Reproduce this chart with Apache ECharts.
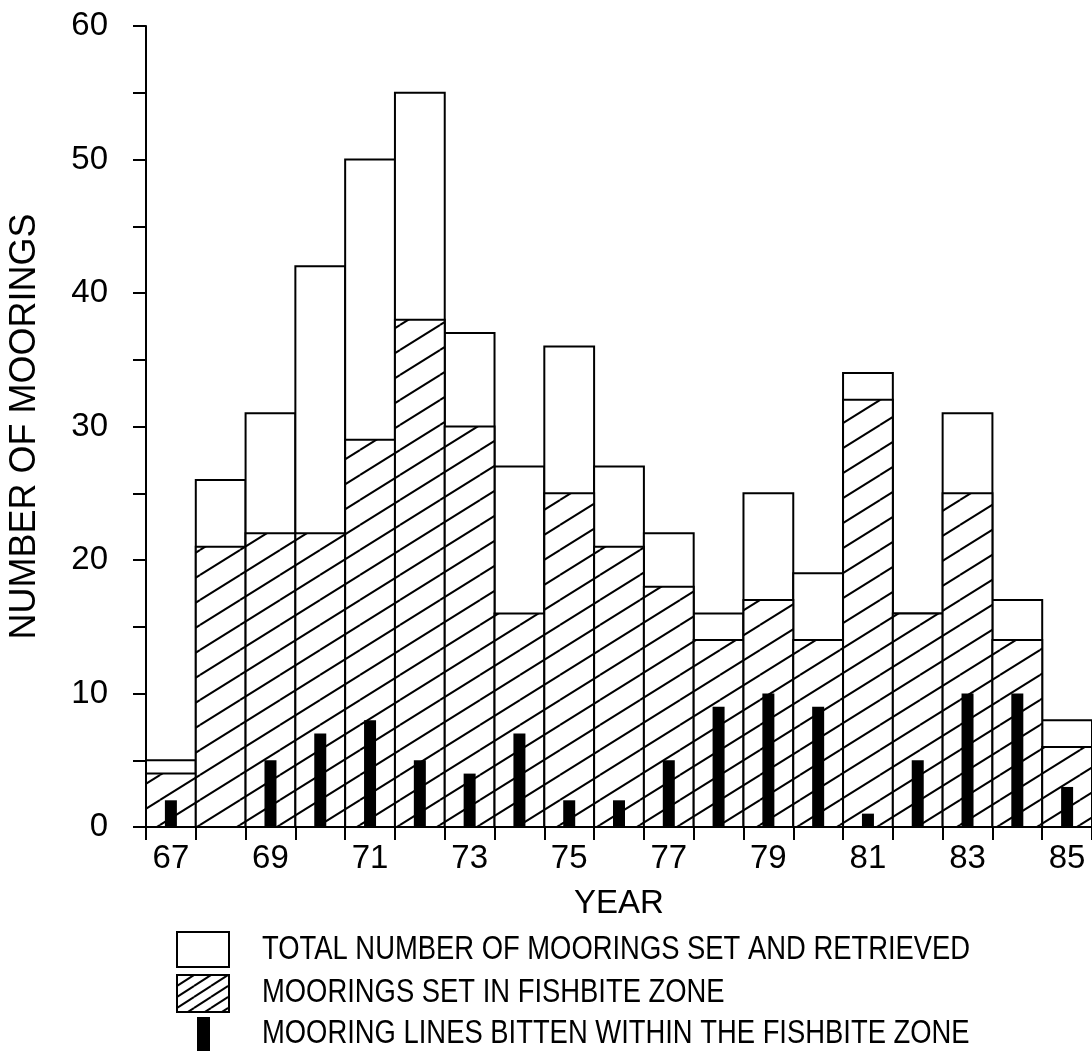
<!DOCTYPE html>
<html>
<head>
<meta charset="utf-8">
<script src="https://cdn.jsdelivr.net/npm/echarts@6/dist/echarts.min.js"></script>
<style>
html,body{margin:0;padding:0;background:#fff;}
#chart{width:1092px;height:1051px;}
</style>
</head>
<body>
<div id="chart"></div>
<script>
// Data
const years = ['67','68','69','70','71','72','73','74','75','76','77','78','79','80','81','82','83','84','85'];
const totalMoorings = [5,26,31,42,50,55,37,27,36,27,22,16,25,19,34,16,31,17,8];
const fishbiteZone  = [4,21,22,22,29,38,30,16,25,21,18,14,17,14,32,16,25,14,6];
const bittenLines   = [2,0,5,7,8,5,4,7,2,2,5,9,10,9,1,5,10,10,3];
const legendLabels = [
  'TOTAL NUMBER OF MOORINGS SET AND RETRIEVED',
  'MOORINGS SET IN FISHBITE ZONE',
  'MOORING LINES BITTEN WITHIN THE FISHBITE ZONE'
];

function makeHatch(W, H, lw) {
  const c = document.createElement('canvas');
  c.width = W; c.height = H;
  const ctx = c.getContext('2d');
  ctx.fillStyle = '#fff';
  ctx.fillRect(0, 0, W, H);
  ctx.strokeStyle = '#000';
  ctx.lineWidth = lw;
  for (let dx = -W; dx <= W; dx += W) {
    for (let dy = -H; dy <= H; dy += H) {
      ctx.beginPath();
      ctx.moveTo(dx, H + dy);
      ctx.lineTo(W + dx, dy);
      ctx.stroke();
    }
  }
  return c;
}
const hatchBig = makeHatch(40, 25, 2);
const hatchSmall = makeHatch(17, 11, 2);

const FONT_REG = '"Liberation Sans", Arial, sans-serif';

function bandRect(fill, lw) {
  return function (params, api) {
    const idx = api.value(0);
    const v = api.value(1);
    const top = api.coord([idx, v]);
    const base = api.coord([idx, 0]);
    const w = api.size([1, 0])[0];
    return {
      type: 'rect',
      shape: { x: top[0] - w / 2, y: top[1], width: w, height: base[1] - top[1] },
      style: { fill: fill, stroke: '#000', lineWidth: lw }
    };
  };
}
function thinBar(params, api) {
  const idx = api.value(0);
  const v = api.value(1);
  if (!v) return null;
  const top = api.coord([idx, v]);
  const base = api.coord([idx, 0]);
  const w = 12;
  return {
    type: 'rect',
    shape: { x: top[0] - w / 2, y: top[1], width: w, height: base[1] - top[1] },
    style: { fill: '#000' }
  };
}

function legendText(txt, cy) {
  return {
    type: 'text', x: 262, y: cy, scaleX: 0.83,
    style: { text: txt, font: '33px ' + FONT_REG, fill: '#000', textVerticalAlign: 'middle', textAlign: 'left' }
  };
}

const chart = echarts.init(document.getElementById('chart'), null, { renderer: 'canvas' });
chart.setOption({
  animation: false,
  backgroundColor: '#fff',
  grid: { left: 146, right: 0, top: 26, bottom: 224, containLabel: false, outerBoundsMode: 'none' },
  xAxis: {
    type: 'category',
    data: years,
    boundaryGap: true,
    name: 'YEAR',
    nameLocation: 'middle',
    nameGap: 60,
    nameTextStyle: { fontFamily: FONT_REG, fontSize: 33, color: '#000' },
    axisLine: { lineStyle: { color: '#000', width: 2 } },
    axisTick: { show: true, interval: 0, length: 13, lineStyle: { color: '#000', width: 2 } },
    axisLabel: { interval: 1, margin: 15, fontFamily: FONT_REG, fontSize: 33, color: '#000' },
    splitLine: { show: false }
  },
  yAxis: {
    type: 'value',
    min: 0, max: 60, interval: 5,
    name: 'NUMBER OF MOORINGS',
    nameLocation: 'middle',
    nameGap: 103,
    nameTextStyle: { fontFamily: FONT_REG, fontSize: 36, color: '#000' },
    axisLine: { show: true, lineStyle: { color: '#000', width: 2 } },
    axisTick: { show: true, length: 13, lineStyle: { color: '#000', width: 2 } },
    axisLabel: {
      margin: 38, fontFamily: FONT_REG, fontSize: 33, color: '#000',
      formatter: function (v) { return v % 10 === 0 ? String(v) : ''; }
    },
    splitLine: { show: false }
  },
  series: [
    {
      type: 'custom', name: legendLabels[0], z: 2,
      renderItem: bandRect('#fff', 2),
      data: years.map((y, i) => [i, totalMoorings[i]])
    },
    {
      type: 'custom', name: legendLabels[1], z: 3,
      renderItem: bandRect({ image: hatchBig, repeat: 'repeat' }, 2),
      data: years.map((y, i) => [i, fishbiteZone[i]])
    },
    {
      type: 'custom', name: legendLabels[2], z: 4,
      renderItem: thinBar,
      data: years.map((y, i) => [i, bittenLines[i]])
    }
  ],
  graphic: [
    { type: 'rect', x: 177, y: 932, shape: { width: 52, height: 35 }, style: { fill: '#fff', stroke: '#000', lineWidth: 2 } },
    { type: 'rect', x: 177, y: 975, shape: { width: 52, height: 37 }, style: { fill: { image: hatchSmall, repeat: 'repeat' }, stroke: '#000', lineWidth: 2 } },
    { type: 'rect', x: 197, y: 1017, shape: { width: 13, height: 34 }, style: { fill: '#000' } },
    legendText(legendLabels[0], 950),
    legendText(legendLabels[1], 993),
    legendText(legendLabels[2], 1034)
  ]
});
</script>
</body>
</html>
